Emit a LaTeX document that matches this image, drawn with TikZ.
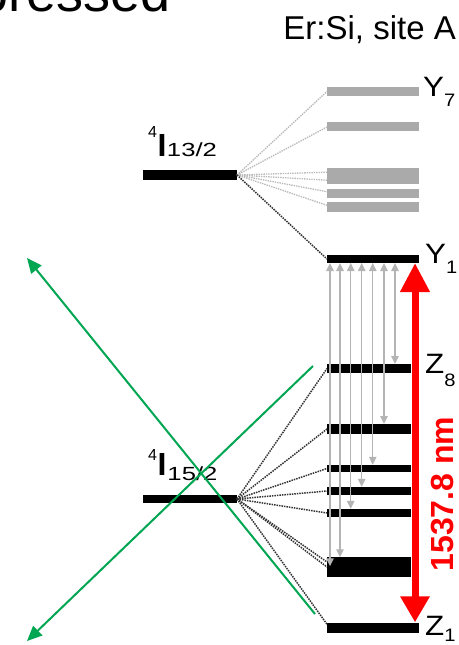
\documentclass[tikz,border=0pt]{standalone}
\usepackage{fontspec}
\setmainfont{Liberation Sans}
\newfontfamily\widefont[FakeStretch=1.35]{Liberation Sans}
\newfontfamily\lblfont[FakeStretch=1.12]{Liberation Sans}
\usetikzlibrary{arrows.meta}
\definecolor{grn}{HTML}{00A651}
\definecolor{lvlgray}{HTML}{AAAAAA}
\definecolor{arrgray}{HTML}{B4B4B4}
\definecolor{dotgray}{HTML}{B8B8B8}
\newcommand{\fs}[1]{\fontsize{#1bp}{#1bp}\selectfont}
\newcommand{\lsub}[2][12]{\raisebox{-#1bp}{\fs{18}#2}}
\begin{document}
\begin{tikzpicture}[x=1bp,y=-1bp,
  lvlbar/.style={fill=black, draw=none, inner sep=0pt, outer sep=0pt, minimum width=#1},
  lvlbar/.default=84bp,
  graybar/.style={fill=lvlgray, draw=none, inner sep=0pt, outer sep=0pt, minimum width=92bp},
  jbar/.style={fill=black, draw=none, inner sep=0pt, outer sep=0pt, minimum width=94bp},
  fanlight/.style={draw=dotgray, line width=1.3bp, dash pattern=on 1.4bp off 1bp},
  fandark/.style={draw=black!80, line width=1.5bp, dash pattern=on 1.5bp off 1bp},
  garr/.style={draw=arrgray, line width=1.3bp, {Triangle[length=8bp,width=7.5bp]}-{Triangle[length=8bp,width=7.5bp]}},
  redarr/.style={draw=red, line width=7bp, {Triangle[length=29bp,width=28bp]}-{Triangle[length=26bp,width=28bp]}},
  greenarr/.style={draw=grn, line width=2bp, -{Triangle[length=15bp,width=13bp]}},
  lbl/.style={anchor=base west, inner sep=0pt, font=\lblfont\fs{28}}
]
\useasboundingbox (0,0) rectangle (459,645);
\clip (0,0) rectangle (459,645);

% titles
\node[anchor=base east, inner sep=0pt, font=\fs{54}] (pr) at (170.6,12) {pressed};
\node[anchor=base east, inner sep=0pt, font=\fs{33}] (site) at (456,40) {Er:Si, site A};

% J manifolds
\node[jbar, minimum height=10bp] (J13) at (190,175) {};
\node[jbar, minimum height=8bp] (J15) at (190,499) {};
\node[anchor=base west, inner sep=0pt] (lJ13) at (148,157) {\raisebox{19bp}{\fs{16}4}\kern0.5bp{\bfseries\fs{32}I}\kern0.5bp{\widefont\fs{19}13/2}};
\node[anchor=base west, inner sep=0pt] (lJ15) at (148,475) {\raisebox{15bp}{\fs{16}4}\kern0.5bp{\bfseries\fs{32}I}\kern1bp\raisebox{-5bp}{\widefont\fs{19}15/2}};

% Y levels
\node[graybar, minimum height=8.5bp] (Y7) at (373,91.5) {};
\node[graybar, minimum height=9bp] (Y6) at (373,127) {};
\node[graybar, minimum height=15.7bp] (Y54) at (373,176.2) {};
\node[graybar, minimum height=9.3bp] (Y3) at (373,193.7) {};
\node[graybar, minimum height=10bp] (Y2) at (373,207.3) {};
\node[lvlbar=92bp, minimum height=8bp] (Y1) at (373,259) {};

% Z levels
\node[lvlbar, minimum height=9bp] (Z8) at (369,368.5) {};
\node[lvlbar, minimum height=10bp] (Z7) at (369,429) {};
\node[lvlbar, minimum height=7.5bp] (Z6) at (369,468.5) {};
\node[lvlbar, minimum height=8.3bp] (Z5) at (369,491) {};
\node[lvlbar, minimum height=8.3bp] (Z4) at (369,513) {};
\node[lvlbar, minimum height=19.4bp] (Z32) at (369,567) {};
\node[lvlbar=92bp, minimum height=10bp] (Z1) at (373,628.3) {};

% fan lines
\draw[fanlight] (J13.east) -- (Y7.west);
\draw[fanlight] (J13.east) -- (Y6.west);
\draw[fanlight] (J13.east) -- ([yshift=4bp]Y54.west);
\draw[fanlight] (J13.east) -- ([yshift=-4bp]Y54.west);
\draw[fanlight] (J13.east) -- ([yshift=2bp]Y3.west);
\draw[fanlight] (J13.east) -- ([yshift=2bp]Y2.west);
\draw[fandark] (J13.east) -- (Y1.west);

\draw[fandark] (J15.east) -- (Z8.west);
\draw[fandark] (J15.east) -- (Z7.west);
\draw[fandark] (J15.east) -- (Z6.west);
\draw[fandark] (J15.east) -- (Z5.west);
\draw[fandark] (J15.east) -- (Z4.west);
\draw[fandark] (J15.east) -- ([yshift=5bp]Z32.west);
\draw[fandark] (J15.east) -- ([yshift=0bp]Z32.west);
\draw[fandark] (J15.east) -- ([yshift=4bp]Z1.west);

% gray transition arrows
\draw[garr] (395,0 |- Y1.south) -- (395,0 |- Z8.north);
\draw[garr] (384,0 |- Y1.south) -- (384,0 |- Z7.north);
\draw[garr] (372.7,0 |- Y1.south) -- (372.7,0 |- Z6.north);
\draw[garr] (361.7,0 |- Y1.south) -- (361.7,0 |- Z5.north);
\draw[garr] (350.7,0 |- Y1.south) -- (350.7,0 |- Z4.north);
\draw[garr] (340,0 |- Y1.south) -- (340,0 |- Z32.north);
\draw[garr] (330,0 |- Y1.south) -- ([yshift=-9bp]330,0 |- Z32.north);

% red arrow
\draw[redarr] (415,0 |- Y1.south) -- ([yshift=1bp]415,0 |- Z1.north);
\node[rotate=90, anchor=base, inner sep=0pt, text=red, font=\bfseries\fs{32}] (nm) at (453,494) {1537.8 nm};

% level labels
\node[lbl] (lY7) at (423,97) {Y\lsub[10]{7}};
\node[lbl] (lY1) at (425,263) {Y\lsub[10]{1}};
\node[lbl] (lZ8) at (425,373) {Z\lsub[13]{8}};
\node[lbl] (lZ1) at (425,635) {Z\lsub[6]{1}};

% green arrows
\coordinate (g1s) at (315,614);
\coordinate (g1e) at (27,258);
\coordinate (g2s) at (313,366);
\coordinate (g2e) at (27,641);
\draw[greenarr] (g1s) -- (g1e);
\draw[greenarr] (g2s) -- (g2e);
\end{tikzpicture}
\end{document}
